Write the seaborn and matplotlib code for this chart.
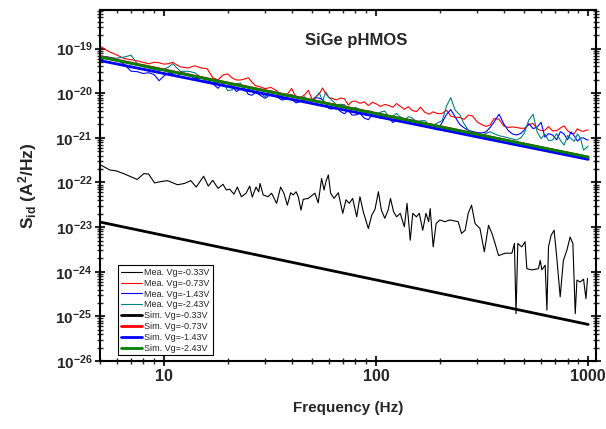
import math
import matplotlib
matplotlib.use('Agg')
import matplotlib.pyplot as plt
import seaborn as sns
import pandas as pd
from matplotlib.ticker import FixedLocator, FuncFormatter, NullFormatter, LogLocator

# ---------------- data ----------------
# measured, Vg = -0.33 V
freq_mea_033 = [5.06, 5.55, 5.96, 6.53, 7.48, 8.05, 8.47, 9.04, 9.71, 10.4,
                11.6, 12.5, 13.4, 14.2, 15.4, 16.2, 17.0, 18.0, 19.0, 19.7,
                20.4, 21.4, 22.2, 23.2, 24.4, 25.4, 26.1, 27.2, 28.0, 28.4,
                29.4, 31.0, 32.2, 34.0, 35.5, 36.8, 38.2, 39.6, 40.7, 42.0,
                43.0, 44.3, 45.4, 47.9, 51.5, 53.4, 55.4, 56.9, 58.1, 59.6,
                61.1, 63.4, 66.4, 69.7, 72.2, 74.8, 77.6, 81.1, 84.0, 87.1,
                92.0, 95.5, 98.9, 102.6, 106, 110, 114, 117, 121, 125,
                130, 136, 140, 145, 149, 155, 160, 166, 172, 177,
                180, 186, 192, 200, 211, 223, 244, 253, 263, 272,
                282, 293, 309, 324, 339, 352, 364, 378, 406, 437,
                449, 457, 466, 486, 504, 514, 542, 583, 594, 605,
                627, 639, 650, 669, 691, 711, 738, 764, 793, 822,
                847, 869, 885, 917, 951, 976, 993]
s_mea_033 = [2.45e-22, 1.91e-22, 1.82e-22, 1.55e-22, 1.17e-22, 1.58e-22, 1.55e-22, 9.8e-23, 1.05e-22, 1.10e-22,
             8.9e-23, 9.5e-23, 1.10e-22, 7.9e-23, 1.38e-22, 8.3e-23, 1.12e-22, 7.4e-23, 9.1e-23, 6.8e-23,
             7.1e-23, 5.5e-23, 7.9e-23, 4.8e-23, 5.75e-23, 8.3e-23, 4.7e-23, 7.9e-23, 6.2e-23, 9.5e-23,
             5.25e-23, 4.8e-23, 5.75e-23, 3.4e-23, 7.9e-23, 5.75e-23, 3.1e-23, 5.9e-23, 5.25e-23, 6.2e-23,
             4.8e-23, 2.4e-23, 4.2e-23, 4.4e-23, 5.75e-23, 3.5e-23, 1.23e-22, 6.8e-23, 1.05e-22, 1.48e-22,
             5.75e-23, 4.4e-23, 5.9e-23, 2.04e-23, 4.1e-23, 3.4e-23, 4.4e-23, 1.7e-23, 4.8e-23, 2.2e-23,
             9.3e-24, 1.86e-23, 2.5e-23, 6.2e-23, 2.4e-23, 1.58e-23, 2.4e-23, 4.4e-23, 2.2e-23, 1.7e-23,
             2.04e-23, 1.02e-23, 3.4e-23, 5.1e-24, 2.04e-23, 1.7e-23, 2.04e-23, 8.5e-24, 2.04e-23, 1.32e-23,
             2.6e-23, 3.6e-24, 1.2e-23, 1.45e-23, 1.32e-23, 1.45e-23, 1.32e-23, 7.2e-24, 8.5e-24, 2.04e-23,
             3.1e-23, 1.2e-23, 9.3e-24, 2.8e-24, 1.1e-23, 7.2e-24, 4.3e-24, 2.3e-24, 2.6e-24, 2.6e-24,
             4.3e-24, 1.15e-25, 4.3e-24, 3.6e-24, 4.7e-24, 1.17e-24, 1.1e-24, 1.17e-24, 1.8e-24, 1.1e-24,
             1.4e-24, 1.38e-25, 3.6e-24, 6.6e-24, 8.5e-24, 2.1e-24, 2.75e-25, 1.8e-24, 3.0e-24, 6.0e-24,
             4.3e-24, 1.15e-25, 6.5e-25, 5.9e-25, 6.8e-25, 2.5e-25, 7.1e-25]

# measured, Vg = -0.73 / -1.43 / -2.43 V (common frequency grid)
freq_mea = [5.0, 5.5, 6.0, 6.5, 7.0, 7.5, 8.0, 8.5, 9.0, 9.5,
            10, 10.5, 11, 11.5, 12, 13, 14, 15, 16, 17,
            18, 19, 20, 21, 22, 23, 24, 25, 26, 27,
            28, 30, 32, 34, 36, 38, 40, 42, 44, 46,
            48, 50, 52, 54, 56, 58, 60, 62, 65, 68,
            71, 74, 77, 80, 84, 88, 92, 96, 100, 105,
            110, 115, 120, 125, 130, 136, 142, 148, 155, 162,
            170, 178, 186, 195, 205, 215, 225, 236, 248, 260,
            272, 285, 300, 315, 330, 345, 360, 380, 400, 420,
            440, 460, 480, 500, 525, 550, 575, 600, 625, 650,
            680, 710, 740, 770, 800, 830, 860, 890, 920, 950,
            980, 1000]
s_mea_073 = [1.14e-19, 8.6e-20, 7.2e-20, 6.0e-20, 5.64e-20, 5.33e-20, 4.91e-20, 4.57e-20, 4.94e-20, 4.83e-20,
             4.49e-20, 4.57e-20, 4.94e-20, 4.33e-20, 3.89e-20, 3.68e-20, 4.12e-20, 3.68e-20, 3.55e-20, 2.23e-20,
             1.98e-20, 2.56e-20, 2.71e-20, 2.19e-20, 1.98e-20, 1.98e-20, 2.08e-20, 2.22e-20, 1.78e-20, 1.49e-20,
             1.42e-20, 1.27e-20, 1.35e-20, 1.14e-20, 8.57e-21, 9.2e-21, 1.28e-20, 8.14e-21, 8.06e-21, 9.12e-21,
             1.16e-20, 7.2e-21, 8.36e-21, 9.65e-21, 1.31e-20, 9.6e-21, 8.03e-21, 7.66e-21, 7.12e-21, 7.78e-21,
             7.54e-21, 5.44e-21, 6.56e-21, 6.70e-21, 5.94e-21, 6.43e-21, 5.3e-21, 6.26e-21, 5.82e-21, 5.04e-21,
             5.61e-21, 5.3e-21, 4.84e-21, 5.88e-21, 5.11e-21, 4.36e-21, 4.99e-21, 4.12e-21, 3.87e-21, 4.86e-21,
             3.72e-21, 3.39e-21, 3.83e-21, 3.49e-21, 3.53e-21, 4.16e-21, 3.09e-21, 2.87e-21, 2.89e-21, 2.60e-21,
             3.22e-21, 3.10e-21, 2.28e-21, 1.98e-21, 1.81e-21, 1.94e-21, 2.71e-21, 2.62e-21, 1.85e-21, 1.71e-21,
             1.76e-21, 1.71e-21, 1.64e-21, 1.64e-21, 1.97e-21, 2.11e-21, 1.61e-21, 1.45e-21, 1.48e-21, 1.78e-21,
             1.43e-21, 1.45e-21, 1.66e-21, 1.86e-21, 1.45e-21, 1.26e-21, 1.26e-21, 1.60e-21, 1.44e-21, 1.40e-21,
             1.49e-21, 1.50e-21]
s_mea_143 = [6.83e-20, 6.46e-20, 5.70e-20, 4.45e-20, 3.12e-20, 3.04e-20, 2.77e-20, 2.88e-20, 2.61e-20, 1.91e-20,
             2.43e-20, 2.88e-20, 2.73e-20, 2.37e-20, 2.91e-20, 2.74e-20, 2.11e-20, 2.17e-20, 2.15e-20, 1.63e-20,
             1.29e-20, 1.80e-20, 1.71e-20, 1.44e-20, 1.09e-20, 1.26e-20, 1.27e-20, 9.46e-21, 9.03e-21, 1.03e-20,
             9.46e-21, 7.70e-21, 9.65e-21, 8.36e-21, 7.05e-21, 7.42e-21, 7.23e-21, 6.08e-21, 6.56e-21, 6.80e-21,
             6.20e-21, 6.49e-21, 7.97e-21, 7.74e-21, 7.16e-21, 5.94e-21, 4.54e-21, 4.43e-21, 4.93e-21, 3.89e-21,
             3.46e-21, 4.16e-21, 3.25e-21, 3.25e-21, 3.55e-21, 2.77e-21, 2.56e-21, 3.30e-21, 3.01e-21, 2.77e-21,
             3.15e-21, 2.84e-21, 2.2e-21, 2.48e-21, 2.96e-21, 2.55e-21, 2.35e-21, 2.47e-21, 2.2e-21, 1.95e-21,
             2.06e-21, 1.93e-21, 1.64e-21, 1.52e-21, 2.22e-21, 3.35e-21, 4.31e-21, 2.95e-21, 2.00e-21, 1.68e-21,
             1.48e-21, 1.39e-21, 1.31e-21, 1.29e-21, 1.36e-21, 1.71e-21, 2.25e-21, 3.39e-21, 2.06e-21, 1.46e-21,
             1.22e-21, 1.16e-21, 1.25e-21, 1.50e-21, 2.08e-21, 1.61e-21, 1.75e-21, 2.23e-21, 1.04e-21, 1.24e-21,
             1.16e-21, 9.05e-22, 1.38e-21, 1.22e-21, 9.05e-22, 1.36e-21, 1.10e-21, 8.45e-22, 9.87e-22, 1.00e-21,
             9.14e-22, 8.94e-22]
s_mea_243 = [6.59e-20, 6.33e-20, 6.10e-20, 6.46e-20, 7.12e-20, 4.60e-20, 3.91e-20, 3.66e-20, 3.37e-20, 3.23e-20,
             3.49e-20, 3.81e-20, 4.60e-20, 3.72e-20, 3.07e-20, 3.12e-20, 2.87e-20, 2.25e-20, 1.88e-20, 1.75e-20,
             1.75e-20, 1.70e-20, 1.15e-20, 1.19e-20, 1.62e-20, 1.69e-20, 1.12e-20, 1.18e-20, 1.28e-20, 1.21e-20,
             1.05e-20, 8.40e-21, 1.15e-20, 9.96e-21, 7.58e-21, 8.40e-21, 9.36e-21, 8.23e-21, 7.86e-21, 8.32e-21,
             6.98e-21, 6.98e-21, 8.06e-21, 1.03e-20, 6.70e-21, 1.07e-20, 8.03e-21, 6.98e-21, 5.53e-21, 5.64e-21,
             5.55e-21, 4.62e-21, 4.41e-21, 4.84e-21, 4.21e-21, 3.62e-21, 4.04e-21, 3.87e-21, 3.33e-21, 3.76e-21,
             4.00e-21, 2.87e-21, 3.05e-21, 3.53e-21, 2.89e-21, 2.38e-21, 2.99e-21, 2.78e-21, 2.35e-21, 2.40e-21,
             2.45e-21, 1.88e-21, 1.91e-21, 2.16e-21, 2.43e-21, 5.17e-21, 7.97e-21, 4.18e-21, 3.32e-21, 2.06e-21,
             1.52e-21, 1.31e-21, 1.21e-21, 1.16e-21, 1.25e-21, 1.37e-21, 1.24e-21, 1.12e-21, 1.06e-21, 1.00e-21,
             9.49e-22, 8.94e-22, 9.87e-22, 1.28e-21, 2.51e-21, 3.37e-21, 1.35e-21, 9.61e-22, 1.22e-21, 8.72e-22,
             8.94e-22, 1.24e-21, 8.81e-22, 6.87e-22, 1.13e-21, 9.61e-22, 8.36e-22, 1.22e-21, 9.77e-22, 5.33e-22,
             5.98e-22, 6.56e-22]

# simulated (1/f lines)
freq_sim = [5, 1000]
s_sim_033 = [1.3e-23, 6.6e-26]
s_sim_073 = [6.6e-20, 3.7e-22]
s_sim_143 = [5.4e-20, 3.3e-22]
s_sim_243 = [6.5e-20, 3.7e-22]

labels_mea = ['Mea. Vg=-0.33V', 'Mea. Vg=-0.73V', 'Mea. Vg=-1.43V', 'Mea. Vg=-2.43V']
labels_sim = ['Sim. Vg=-0.33V', 'Sim. Vg=-0.73V', 'Sim. Vg=-1.43V', 'Sim. Vg=-2.43V']
colors_mea = ['#000000', '#ff0000', '#0000ff', '#008080']
colors_sim = ['#000000', '#ff0000', '#0000ff', '#008000']
x_ticks = [10, 100, 1000]
y_ticks = [1e-26, 1e-25, 1e-24, 1e-23, 1e-22, 1e-21, 1e-20, 1e-19]
title_text = 'SiGe pHMOS'

# ---------------- style ----------------
sns.set_style('ticks')
plt.rcParams['font.family'] = ['Liberation Sans', 'DejaVu Sans']
plt.rcParams['mathtext.fontset'] = 'custom'
plt.rcParams['mathtext.rm'] = 'Liberation Sans:bold'
plt.rcParams['mathtext.bf'] = 'Liberation Sans:bold'
plt.rcParams['mathtext.it'] = 'Liberation Sans:bold'
plt.rcParams['mathtext.sf'] = 'Liberation Sans:bold'
plt.rcParams['axes.linewidth'] = 1.5

fig = plt.figure(figsize=(6.06, 4.29), dpi=100)
ax = fig.add_axes([0.165, 0.1585, 0.818, 0.818])
ax.set_xscale('log')
ax.set_yscale('log')

mea_sets = [(freq_mea_033, s_mea_033), (freq_mea, s_mea_073), (freq_mea, s_mea_143), (freq_mea, s_mea_243)]
for (f, s), lab, c in zip(mea_sets, labels_mea, colors_mea):
    df = pd.DataFrame({'f': f, 's': s})
    sns.lineplot(data=df, x='f', y='s', ax=ax, color=c, lw=0.8, label=lab,
                 estimator=None, sort=False)

sim_sets = [s_sim_033, s_sim_073, s_sim_143, s_sim_243]
for s, lab, c in zip(sim_sets, labels_sim, colors_sim):
    df = pd.DataFrame({'f': freq_sim, 's': s})
    sns.lineplot(data=df, x='f', y='s', ax=ax, color=c, lw=2.0, label=lab,
                 estimator=None, sort=False)

ax.set_xlim(5, 1085)
ax.set_ylim(1e-26, 7.3e-19)

# ticks
minor_subs = [2, 3, 4, 5, 6, 7, 8, 9]
ax.xaxis.set_major_locator(FixedLocator(x_ticks))
ax.xaxis.set_major_formatter(FuncFormatter(lambda v, p: '%d' % int(round(v))))
ax.xaxis.set_minor_locator(LogLocator(base=10, subs=minor_subs, numticks=20))
ax.xaxis.set_minor_formatter(NullFormatter())
ax.yaxis.set_major_locator(FixedLocator(y_ticks))
ax.yaxis.set_major_formatter(FuncFormatter(
    lambda v, p: r'$\mathbf{10^{%d}}$' % int(round(math.log10(v)))))
ax.yaxis.set_minor_locator(LogLocator(base=10, subs=minor_subs, numticks=30))
ax.yaxis.set_minor_formatter(NullFormatter())

ax.tick_params(which='major', direction='inout', length=7, width=1.5,
               top=False, right=True, pad=2)
ax.tick_params(which='minor', direction='inout', length=4, width=1.0,
               top=False, right=True)
ax.tick_params(axis='x', which='major', labelsize=11.5)
ax.tick_params(axis='y', which='major', labelsize=11)
for lbl in ax.get_xticklabels() + ax.get_yticklabels():
    lbl.set_fontweight('bold')

# top axis: inward ticks only
secx = ax.secondary_xaxis('top')
secx.xaxis.set_major_locator(FixedLocator(x_ticks))
secx.xaxis.set_minor_locator(LogLocator(base=10, subs=minor_subs, numticks=20))
secx.xaxis.set_major_formatter(NullFormatter())
secx.xaxis.set_minor_formatter(NullFormatter())
secx.tick_params(which='major', direction='in', length=4, width=1.5)
secx.tick_params(which='minor', direction='in', length=2.5, width=1.0)
secx.spines['top'].set_linewidth(1.5)

for sp in ax.spines.values():
    sp.set_linewidth(1.5)
    sp.set_color('black')

ax.set_xlabel('Frequency (Hz)', fontsize=11, fontweight='bold')
ax.set_ylabel(r'S$_{\mathregular{id}}$ (A$^{\mathregular{2}}$/Hz)', fontsize=12.5, fontweight='bold')
ax.xaxis.set_label_coords(0.5, -0.115)
ax.yaxis.set_label_coords(-0.123, 0.5)

ax.text(0.516, 0.912, title_text, transform=ax.transAxes, ha='center', va='center',
        fontsize=12, fontweight='bold')

leg = ax.legend(loc='lower left', bbox_to_anchor=(0.036, 0.016), borderaxespad=0,
                fontsize=6.5, frameon=True, fancybox=False, edgecolor='black',
                framealpha=1, handlelength=2.4, handletextpad=0.25,
                labelspacing=0.2, borderpad=0.3)
leg.get_frame().set_linewidth(0.8)

fig.savefig('out.png', dpi=100)
